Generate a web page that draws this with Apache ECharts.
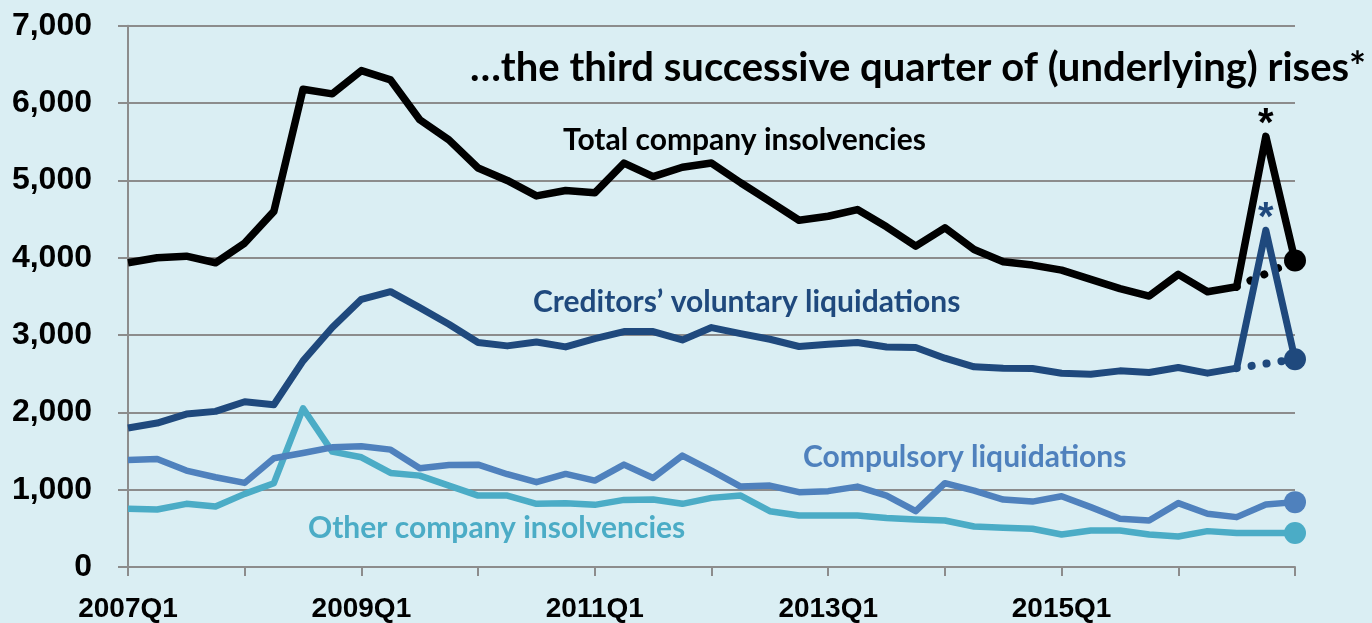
<!DOCTYPE html>
<html>
<head>
<meta charset="utf-8">
<script src="https://cdn.jsdelivr.net/npm/echarts@6/dist/echarts.min.js"></script>
<style>
html,body{margin:0;padding:0;background:#DAEEF3;}
#c{width:1372px;height:623px;}
</style>
</head>
<body>
<div id="c"></div>
<script>
const categories = ['2007Q1','2007Q2','2007Q3','2007Q4','2008Q1','2008Q2','2008Q3','2008Q4',
'2009Q1','2009Q2','2009Q3','2009Q4','2010Q1','2010Q2','2010Q3','2010Q4',
'2011Q1','2011Q2','2011Q3','2011Q4','2012Q1','2012Q2','2012Q3','2012Q4',
'2013Q1','2013Q2','2013Q3','2013Q4','2014Q1','2014Q2','2014Q3','2014Q4',
'2015Q1','2015Q2','2015Q3','2015Q4','2016Q1','2016Q2','2016Q3','2016Q4','2017Q1'];

const total = [3935,4000,4020,3935,4190,4600,6180,6120,6420,6300,5785,5525,5160,5000,4800,4870,4840,5225,5050,5170,5225,4970,4730,4485,4537,4623,4400,4150,4387,4107,3948,3905,3840,3720,3600,3505,3785,3560,3625,5570,3965];
const creditors = [1797,1862,1978,2013,2137,2098,2666,3097,3462,3561,3355,3139,2903,2860,2911,2847,2955,3045,3045,2937,3097,3019,2946,2852,2881,2903,2845,2839,2701,2589,2572,2568,2507,2494,2537,2516,2581,2507,2572,4356,2688];
const compulsory = [1385,1397,1247,1161,1088,1406,1475,1548,1561,1518,1277,1320,1324,1200,1097,1204,1118,1324,1152,1440,1247,1040,1053,968,981,1040,924,722,1084,988,872,846,916,774,623,601,826,688,645,808,839];
const other = [752,743,817,782,946,1084,2052,1492,1419,1217,1182,1053,924,924,817,826,804,868,872,817,894,924,722,666,666,666,635,614,601,524,507,494,421,473,473,421,395,464,439,439,439];

const yTicks = [0,1000,2000,3000,4000,5000,6000,7000];
const labelEvery = 8;
const spikeIndex = 39;
const lastIndex = 40;
const underlyingFrom = 38;

const title = '\u2026the third successive quarter of (underlying) rises*';
const names = {
  total: 'Total company insolvencies',
  creditors: 'Creditors\u2019 voluntary liquidations',
  compulsory: 'Compulsory liquidations',
  other: 'Other company insolvencies'
};

const colors = { total:'#000000', creditors:'#1F497D', compulsory:'#4F81BD', other:'#4BACC6' };
const gridColor = '#8C8C8C';
const textFont = 'Lato';

function mainSeries(name, arr, color, width, star) {
  return {
    name: name, type: 'line', data: arr.map((v, i) => {
      if (star && i === spikeIndex) {
        return { value: v, label: { show: true, formatter: '*', position: 'top', distance: -9,
          color: color, fontSize: 40, fontWeight: 'bold', fontFamily: 'Liberation Sans' } };
      }
      return v;
    }),
    symbol: 'circle', showAllSymbol: true,
    symbolSize: (v, p) => p.dataIndex === lastIndex ? 22 : 0,
    itemStyle: { color: color },
    lineStyle: { color: color, width: width, join: 'round' },
    label: { show: false },
    silent: true, animation: false, z: 3
  };
}
function dottedSeries(arr, color) {
  return {
    type: 'line', connectNulls: true, symbol: 'none',
    data: arr.map((v, i) => (i === underlyingFrom || i === lastIndex) ? v : null),
    lineStyle: { color: color, width: 8, type: [0.1, 15], cap: 'round' },
    silent: true, animation: false, z: 2
  };
}

const chart = echarts.init(document.getElementById('c'));
chart.setOption({
  backgroundColor: '#DAEEF3',
  animation: false,
  grid: { left: 128, right: 77, top: 25.8, bottom: 54.7, containLabel: false },
  xAxis: {
    type: 'category', data: categories, boundaryGap: false,
    axisLine: { lineStyle: { color: gridColor, width: 2 } },
    axisTick: { show: true, interval: 3, length: 9, lineStyle: { color: gridColor, width: 2 } },
    axisLabel: { interval: (i) => i % labelEvery === 0 && i < lastIndex, margin: 28,
      color: '#000', fontSize: 28, fontWeight: 'bold', fontFamily: 'Liberation Sans' },
    splitLine: { show: false }
  },
  yAxis: {
    type: 'value', min: yTicks[0], max: yTicks[yTicks.length - 1], interval: 1000,
    axisLine: { show: true, lineStyle: { color: gridColor, width: 2 } },
    axisTick: { show: true, length: 10, lineStyle: { color: gridColor, width: 2 } },
    axisLabel: { margin: 36, color: '#000', fontSize: 32, fontWeight: 'bold', fontFamily: 'Liberation Sans',
      formatter: (v) => v.toLocaleString('en-US') },
    splitLine: { show: true, lineStyle: { color: gridColor, width: 2 } }
  },
  series: [
    mainSeries(names.other, other, colors.other, 6.5, false),
    mainSeries(names.compulsory, compulsory, colors.compulsory, 6.5, false),
    mainSeries(names.creditors, creditors, colors.creditors, 7, true),
    mainSeries(names.total, total, colors.total, 7.5, true),
    dottedSeries(creditors, colors.creditors),
    dottedSeries(total, colors.total)
  ],
  graphic: [
    { type: 'text', x: 470, y: 68, style: { text: title, fill: '#000', font: 'bold 40px ' + textFont, verticalAlign: 'middle' } },
    { type: 'text', x: 563, y: 140, style: { text: names.total, fill: colors.total, font: 'bold 30px ' + textFont, verticalAlign: 'middle' } },
    { type: 'text', x: 533, y: 302, style: { text: names.creditors, fill: colors.creditors, font: 'bold 30px ' + textFont, verticalAlign: 'middle' } },
    { type: 'text', x: 803, y: 457, style: { text: names.compulsory, fill: colors.compulsory, font: 'bold 30px ' + textFont, verticalAlign: 'middle' } },
    { type: 'text', x: 308, y: 528, style: { text: names.other, fill: colors.other, font: 'bold 30px ' + textFont, verticalAlign: 'middle' } }
  ]
});
</script>
</body>
</html>
